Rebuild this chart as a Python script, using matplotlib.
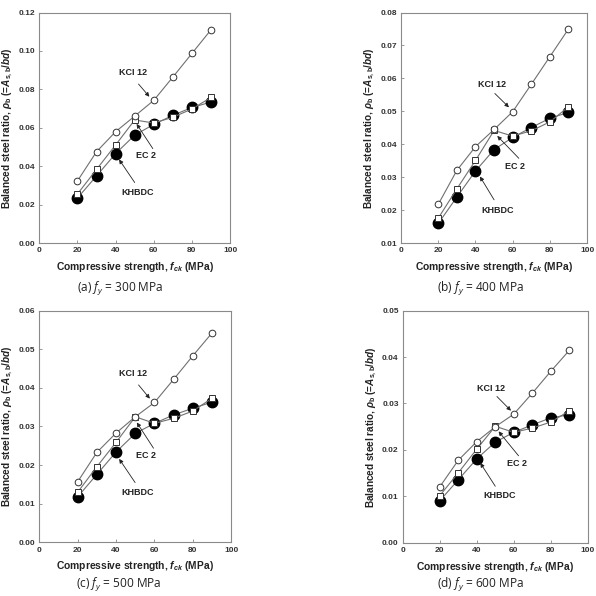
import matplotlib
matplotlib.use("Agg")
import matplotlib.pyplot as plt
import numpy as np

plt.rcParams['font.family'] = ['Liberation Sans', 'DejaVu Sans']
plt.rcParams['mathtext.fontset'] = 'custom'
plt.rcParams['mathtext.rm'] = 'Open Sans'
plt.rcParams['mathtext.it'] = 'Open Sans:italic'
plt.rcParams['mathtext.bf'] = 'Liberation Sans:bold'
plt.rcParams['mathtext.bfit'] = 'Liberation Sans:italic:bold'

fck = [20, 30, 40, 50, 60, 70, 80, 90]

# fy = 300, 400, 500, 600 MPa
kci_300 = [0.0324, 0.0476, 0.0580, 0.0661, 0.0743, 0.0864, 0.0987, 0.1110]
ec2_300 = [0.0256, 0.0384, 0.0511, 0.0641, 0.0625, 0.0655, 0.0698, 0.0758]
khb_300 = [0.0235, 0.0350, 0.0466, 0.0562, 0.0618, 0.0665, 0.0706, 0.0734]

kci_400 = [0.0218, 0.0321, 0.0393, 0.0445, 0.0499, 0.0582, 0.0666, 0.0750]
ec2_400 = [0.0176, 0.0265, 0.0351, 0.0442, 0.0425, 0.0441, 0.0468, 0.0514]
khb_400 = [0.0160, 0.0240, 0.0319, 0.0384, 0.0421, 0.0451, 0.0479, 0.0497]

kci_500 = [0.0157, 0.0233, 0.0283, 0.0325, 0.0362, 0.0422, 0.0483, 0.0542]
ec2_500 = [0.0130, 0.0196, 0.0259, 0.0325, 0.0308, 0.0321, 0.0340, 0.0373]
khb_500 = [0.0118, 0.0176, 0.0234, 0.0282, 0.0308, 0.0330, 0.0347, 0.0363]

kci_600 = [0.0121, 0.0178, 0.0218, 0.0250, 0.0277, 0.0322, 0.0369, 0.0414]
ec2_600 = [0.0102, 0.0151, 0.0202, 0.0251, 0.0238, 0.0247, 0.0260, 0.0284]
khb_600 = [0.0091, 0.0136, 0.0181, 0.0217, 0.0238, 0.0254, 0.0269, 0.0276]

captions = ["(a) ", "(b) ", "(c) ", "(d) "]
fy_vals = [300, 400, 500, 600]
ylims = [(0.0, 0.12), (0.01, 0.08), (0.0, 0.06), (0.0, 0.05)]
ysteps = [0.02, 0.01, 0.01, 0.01]

panels = [
    (kci_300, ec2_300, khb_300),
    (kci_400, ec2_400, khb_400),
    (kci_500, ec2_500, khb_500),
    (kci_600, ec2_600, khb_600),
]

# axes boxes [left, bottom, width, height] in figure fraction
boxes = [
    [0.066, 0.592, 0.320, 0.387],
    [0.673, 0.592, 0.312, 0.387],
    [0.066, 0.090, 0.322, 0.389],
    [0.676, 0.089, 0.310, 0.390],
]
cap_pos = [(0.201, 0.515), (0.807, 0.515), (0.199, 0.018), (0.807, 0.018)]

# annotation layout in axes fraction: (text, arrow tail, arrow tip)
notes = [
    {"KCI 12": ((0.49, 0.74), (0.52, 0.69), (0.577, 0.635)),
     "EC 2": ((0.56, 0.378), (0.595, 0.41), (0.51, 0.517)),
     "KHBDC": ((0.516, 0.22), (0.50, 0.263), (0.418, 0.363))},
    {"KCI 12": ((0.487, 0.687), (0.504, 0.649), (0.58, 0.589)),
     "EC 2": ((0.612, 0.332), (0.633, 0.368), (0.517, 0.465)),
     "KHBDC": ((0.517, 0.141), (0.50, 0.188), (0.424, 0.289))},
    {"KCI 12": ((0.487, 0.727), (0.517, 0.679), (0.576, 0.62)),
     "EC 2": ((0.555, 0.373), (0.595, 0.406), (0.508, 0.517)),
     "KHBDC": ((0.513, 0.214), (0.499, 0.258), (0.416, 0.36))},
    {"KCI 12": ((0.477, 0.666), (0.509, 0.63), (0.585, 0.569)),
     "EC 2": ((0.617, 0.341), (0.626, 0.375), (0.518, 0.48)),
     "KHBDC": ((0.522, 0.203), (0.50, 0.244), (0.419, 0.344))},
]

fig = plt.figure(figsize=(5.96, 5.96), dpi=100)

for i, (kci, ec2, khb) in enumerate(panels):
    ax = fig.add_axes(boxes[i])
    line_c = '#707070'
    ax.plot(fck, khb, '-', color=line_c, lw=0.8, marker='o', ms=7.5,
            mfc='black', mec='black', zorder=2)
    ax.plot(fck, ec2, '-', color=line_c, lw=0.8, marker='s', ms=4.3,
            mfc='white', mec='#333333', mew=0.7, zorder=3)
    ax.plot(fck, kci, '-', color=line_c, lw=0.8, marker='o', ms=4.8,
            mfc='white', mec='#333333', mew=0.7, zorder=4)

    ax.set_xlim(0, 100)
    ax.set_ylim(*ylims[i])
    ax.set_xticks(np.arange(0, 101, 20))
    lo, hi = ylims[i]
    ax.set_yticks(np.arange(lo, hi + 1e-9, ysteps[i]))
    ax.yaxis.set_major_formatter(matplotlib.ticker.FormatStrFormatter('%.2f'))
    ax.tick_params(direction='in', length=2, width=0.6, color='#888888',
                   labelsize=6.0, labelcolor='#333333', pad=3)
    for lab in ax.get_xticklabels() + ax.get_yticklabels():
        lab.set_fontweight('bold')
    for sp in ax.spines.values():
        sp.set_color('#8a8a8a')
        sp.set_linewidth(0.8)

    ax.set_xlabel(r"Compressive strength, $\mathbfit{f}_{\mathbfit{ck}}$ (MPa)",
                  fontsize=7.4, fontweight='bold', color='#222222', labelpad=4)
    ax.set_ylabel(r"Balanced steel ratio, $\mathbfit{\rho}_{\mathbf{b}}$ "
                  r"(=$\mathbfit{A}_{\mathbf{s,b}}$/$\mathbfit{bd}$)",
                  fontsize=7.2, fontweight='bold', color='#222222', labelpad=2.5)

    for name, (txt, tail, tip) in notes[i].items():
        ax.text(txt[0], txt[1], name, transform=ax.transAxes, fontsize=6.5,
                fontweight='bold', color='#222222', ha='center', va='center')
        ax.annotate("", xy=tip, xytext=tail, xycoords='axes fraction',
                    textcoords='axes fraction',
                    arrowprops=dict(arrowstyle='-|>', color='#222222', lw=0.6,
                                    mutation_scale=6, shrinkA=0, shrinkB=0))

    fig.text(cap_pos[i][0], cap_pos[i][1],
             captions[i] + r"$\mathit{f}_{y}$" + " = %d MPa" % fy_vals[i],
             fontfamily='Open Sans', fontsize=8.6, color='#222222',
             ha='center', va='center')

fig.savefig("out.png", dpi=100)
